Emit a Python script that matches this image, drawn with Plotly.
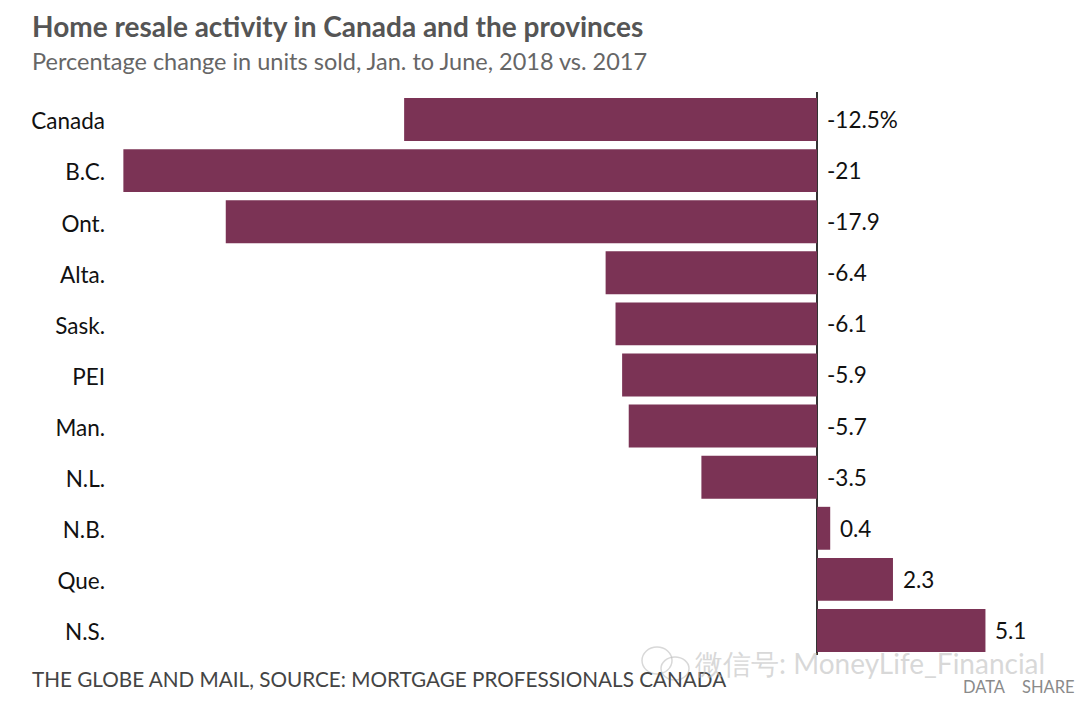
import plotly.graph_objects as go

categories = ["Canada", "B.C.", "Ont.", "Alta.", "Sask.", "PEI", "Man.", "N.L.", "N.B.", "Que.", "N.S."]
values = [-12.5, -21, -17.9, -6.4, -6.1, -5.9, -5.7, -3.5, 0.4, 2.3, 5.1]
labels = ["-12.5%", "-21", "-17.9", "-6.4", "-6.1", "-5.9", "-5.7", "-3.5", "0.4", "2.3", "5.1"]

FONT = "Lato"
W, H = 1080, 715
L, R, T, B = 110, 0, 92, 60
PX = 33.03
ZERO = 817

fig = go.Figure()
fig.add_bar(y=categories, x=values, orientation="h", marker=dict(color="#7B3355", line_width=0),
            hoverinfo="skip", showlegend=False)

for c, v, t in zip(categories, values, labels):
    fig.add_annotation(x=max(v, 0), y=c, xref="x", yref="y", text=t, showarrow=False,
                       xanchor="left", yanchor="middle", xshift=8, yshift=0,
                       font=dict(family=FONT, size=22.5, color="#111111"))

def px(x, y):
    return (x - L) / (W - L - R), 1 - (y - T) / (H - T - B)

def note(text, x, y, size, color, bold=False):
    xp, yp = px(x, y)
    fig.add_annotation(text=f"<b>{text}</b>" if bold else text, xref="paper", yref="paper",
                       x=xp, y=yp, xanchor="left", yanchor="middle", showarrow=False,
                       font=dict(family=FONT, size=size, color=color))

note("Home resale activity in Canada and the provinces", 29.5, 26, 28, "#555555", True)
note("Percentage change in units sold, Jan. to June, 2018 vs. 2017", 29.5, 60.5, 23.5, "#666666")
note("THE GLOBE AND MAIL, SOURCE: MORTGAGE PROFESSIONALS CANADA", 29.5, 679, 20.7, "#444444")
note("DATA", 961, 687, 16.5, "#8a8a8a")
note("SHARE", 1020, 687, 16.5, "#8a8a8a")
note("微信号: MoneyLife_Financial", 693, 663, 28, "rgba(190,190,190,0.6)")

for x0, y0, x1, y1 in [(642, 647, 672, 674), (661, 657, 689, 680)]:
    a, b = px(x0, y0), px(x1, y1)
    fig.add_shape(type="circle", xref="paper", yref="paper", x0=a[0], y0=a[1], x1=b[0], y1=b[1],
                  line=dict(color="rgba(190,190,190,0.6)", width=1.5))

fig.update_layout(
    width=W, height=H, autosize=False,
    margin=dict(l=L, r=R, t=T, b=B),
    paper_bgcolor="white", plot_bgcolor="white",
    bargap=0.16,
    xaxis=dict(range=[(L - ZERO) / PX, (W - R - ZERO) / PX], showgrid=False, showticklabels=False,
               zeroline=True, zerolinecolor="#333333", zerolinewidth=2, ticks=""),
    yaxis=dict(range=[10.48, -0.538], showgrid=False, showline=False, ticks="", ticklen=0,
               ticklabelstandoff=4, ticklabelshift=-2,
               zeroline=False, tickfont=dict(family=FONT, size=22.5, color="#111111"),
               categoryorder="array", categoryarray=categories),
)
fig.write_html("out.html", config=dict(displayModeBar=False),
               post_script="document.body.style.margin='0';document.body.style.overflow='hidden';")
